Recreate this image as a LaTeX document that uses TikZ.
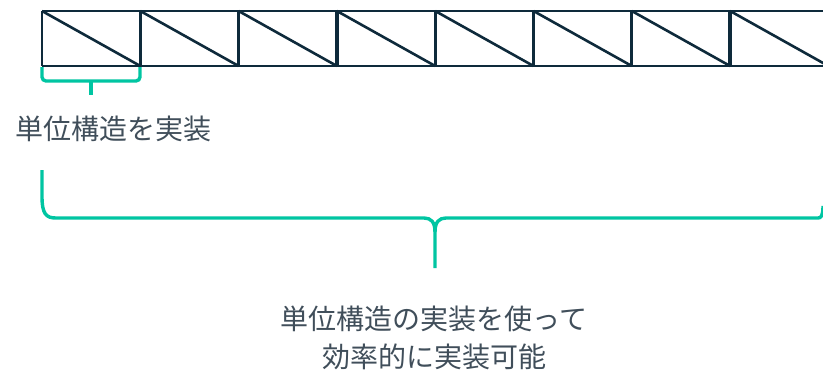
\documentclass[tikz,border=0pt]{standalone}
\usepackage{fontspec}
\newfontfamily\jp{Noto Sans CJK JP}
\definecolor{navy}{HTML}{0E2A3B}
\definecolor{teal}{HTML}{00C5A2}
\definecolor{txt}{HTML}{404E5A}
\begin{document}
\begin{tikzpicture}[x=1pt,y=-1pt,
  chord/.style={draw=navy,line width=2.6pt},
  post/.style={draw=navy,line width=3.3pt},
  brace/.style={draw=teal,line width=3.4pt,line cap=butt},
  label/.style={font=\jp\fontsize{28}{38}\selectfont,text=txt,inner sep=0pt,align=center}]
\useasboundingbox (0,0) rectangle (823,372);
\clip (0,0) rectangle (823,372);
% truss
\foreach \i in {0,...,7}{
  \pgfmathsetmacro{\xa}{42+98.3*\i}
  \pgfmathsetmacro{\xb}{42+98.3*(\i+1)}
  \coordinate (t\i) at (\xa,11);
  \coordinate (b\i) at (\xa,66);
  \draw[chord] (\xa,11) -- (\xb,66);
}
\coordinate (t8) at (828.4,11);
\coordinate (b8) at (828.4,66);
\draw[chord] (t0) -- (t8);
\draw[chord] (b0) -- (b8);
\draw[chord] (t0) -- (b0);
\foreach \i in {1,...,7}{\draw[post] (t\i) -- (b\i);}
% small brace
\coordinate (sl) at (42,67);
\coordinate (sr) at (140,67);
\coordinate (sm) at (91,95);
\draw[brace,rounded corners=4pt] (sl) -- (42,81) -- (140,81) -- (sr);
\draw[brace] (91,81) -- (sm);
\node[label,anchor=west] (unit) at (15,129) {単位構造を実装};
% big brace
\coordinate (bl) at (42,170);
\coordinate (br) at (823,206);
\coordinate (bm) at (435,268);
\draw[brace] (bl) -- (42,196) .. controls (42,214) and (46,218) .. (56,218) -- (424,218)
  .. controls (431,218) and (435,222) .. (435,232) -- (bm);
\draw[brace] (435,232) .. controls (435,222) and (439,218) .. (446,218) -- (818,218)
  .. controls (821,218) and (823,216) .. (br);
\node[label] (result) at (434,338) {単位構造の実装を使って\\効率的に実装可能};
\end{tikzpicture}
\end{document}
